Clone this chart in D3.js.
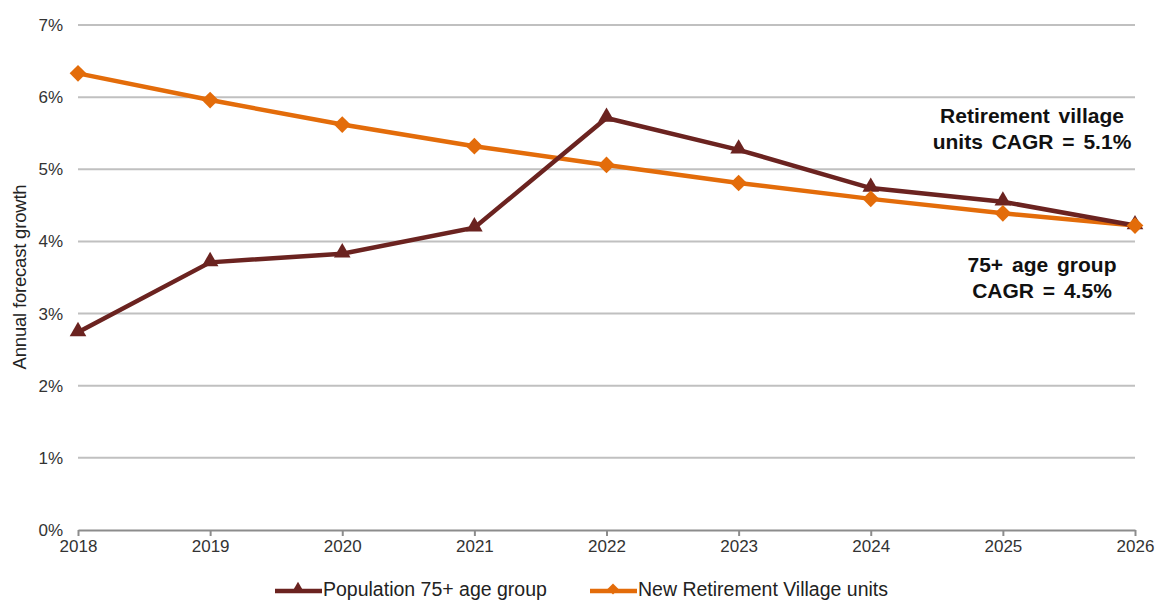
<!DOCTYPE html>
<html>
<head>
<meta charset="utf-8">
<script src="https://cdn.jsdelivr.net/npm/d3@7"></script>
<style>
  body { margin: 0; background: #fff; }
  svg { font-family: Arial, "Liberation Sans", sans-serif; }
</style>
</head>
<body>
<svg id="chart"></svg>
<script>
// Chart data
var years = ["2018", "2019", "2020", "2021", "2022", "2023", "2024", "2025", "2026"];
var population75 = [2.74, 3.71, 3.83, 4.19, 5.71, 5.27, 4.74, 4.55, 4.22];
var retirementUnits = [6.33, 5.96, 5.62, 5.32, 5.06, 4.81, 4.59, 4.39, 4.22];
var yTicks = [0, 1, 2, 3, 4, 5, 6, 7];
var seriesNames = ["Population 75+ age group", "New Retirement Village units"];

var width = 1157, height = 600;
var margin = { left: 78, right: 22, top: 25, bottom: 70 };

var svg = d3.select("#chart")
    .attr("width", width)
    .attr("height", height);

var x = d3.scalePoint()
    .domain(years)
    .range([margin.left, width - margin.right]);

var y = d3.scaleLinear()
    .domain([0, 7])
    .range([height - margin.bottom, margin.top]);

// gridlines
svg.append("g")
    .selectAll("line")
    .data(yTicks.filter(function(d) { return d > 0; }))
    .enter().append("line")
    .attr("x1", margin.left)
    .attr("x2", width - margin.right)
    .attr("y1", function(d) { return y(d); })
    .attr("y2", function(d) { return y(d); })
    .attr("stroke", "#c0c0c0")
    .attr("stroke-width", 2);

// y axis labels
svg.append("g")
    .selectAll("text")
    .data(yTicks)
    .enter().append("text")
    .attr("x", margin.left - 15)
    .attr("y", function(d) { return y(d); })
    .attr("dy", "0.35em")
    .attr("text-anchor", "end")
    .attr("font-size", 17)
    .attr("fill", "#333")
    .text(function(d) { return d + "%"; });

// x axis
var xAxis = svg.append("g")
    .attr("transform", "translate(0," + y(0) + ")")
    .call(d3.axisBottom(x).tickSize(6).tickPadding(4).tickSizeOuter(0));
xAxis.select(".domain").attr("stroke", "#8c8c8c").attr("stroke-width", 2);
xAxis.selectAll(".tick line").attr("stroke", "#8c8c8c").attr("stroke-width", 2);
xAxis.selectAll(".tick text")
    .attr("font-size", 17)
    .attr("font-family", "Arial, 'Liberation Sans', sans-serif")
    .attr("fill", "#333");

// y axis title
svg.append("text")
    .attr("transform", "translate(26,277) rotate(-90)")
    .attr("text-anchor", "middle")
    .attr("font-size", 18.5)
    .attr("letter-spacing", -0.2)
    .attr("fill", "#222")
    .text("Annual forecast growth");

var line = d3.line()
    .x(function(d, i) { return x(years[i]); })
    .y(function(d) { return y(d); });

var darkColor = "#6b2320";
var orangeColor = "#e36c0a";

var tri = d3.symbol().type(d3.symbolTriangle).size(120);
var dia = d3.symbol().type(d3.symbolSquare).size(140);

// orange series
svg.append("path")
    .datum(retirementUnits)
    .attr("d", line)
    .attr("fill", "none")
    .attr("stroke", orangeColor)
    .attr("stroke-width", 4.5);

// dark series
svg.append("path")
    .datum(population75)
    .attr("d", line)
    .attr("fill", "none")
    .attr("stroke", darkColor)
    .attr("stroke-width", 4.5);

svg.append("g")
    .selectAll("path")
    .data(population75)
    .enter().append("path")
    .attr("d", tri)
    .attr("transform", function(d, i) { return "translate(" + x(years[i]) + "," + (y(d) - 1) + ")"; })
    .attr("fill", darkColor);

svg.append("g")
    .selectAll("path")
    .data(retirementUnits)
    .enter().append("path")
    .attr("d", dia)
    .attr("transform", function(d, i) { return "translate(" + x(years[i]) + "," + y(d) + ") rotate(45)"; })
    .attr("fill", orangeColor);

// annotations
var notes = [
    { lines: ["Retirement village", "units CAGR = 5.1%"], cx: 1032, y0: 123 },
    { lines: ["75+ age group", "CAGR = 4.5%"], cx: 1042, y0: 272 }
];
notes.forEach(function(n) {
    var t = svg.append("text")
        .attr("text-anchor", "middle")
        .attr("font-size", 21)
        .attr("font-weight", "bold")
        .attr("word-spacing", 3)
        .attr("fill", "#111");
    n.lines.forEach(function(l, i) {
        t.append("tspan")
            .attr("x", n.cx)
            .attr("y", n.y0 + i * 26)
            .text(l);
    });
});

// legend
var legend = svg.append("g");
var legendItems = [
    { name: seriesNames[0], color: darkColor, sym: d3.symbol().type(d3.symbolTriangle).size(70), x: 275, rot: 0 },
    { name: seriesNames[1], color: orangeColor, sym: d3.symbol().type(d3.symbolSquare).size(60), x: 590, rot: 45 }
];
legendItems.forEach(function(d) {
    legend.append("line")
        .attr("x1", d.x).attr("x2", d.x + 47)
        .attr("y1", 591).attr("y2", 591)
        .attr("stroke", d.color)
        .attr("stroke-width", 4.5);
    legend.append("path")
        .attr("d", d.sym)
        .attr("transform", "translate(" + (d.x + 23) + ",589) rotate(" + d.rot + ")")
        .attr("fill", d.color);
    legend.append("text")
        .attr("x", d.x + 48)
        .attr("y", 596)
        .attr("font-size", 19.5)
        .attr("fill", "#222")
        .text(d.name);
});
</script>
</body>
</html>
